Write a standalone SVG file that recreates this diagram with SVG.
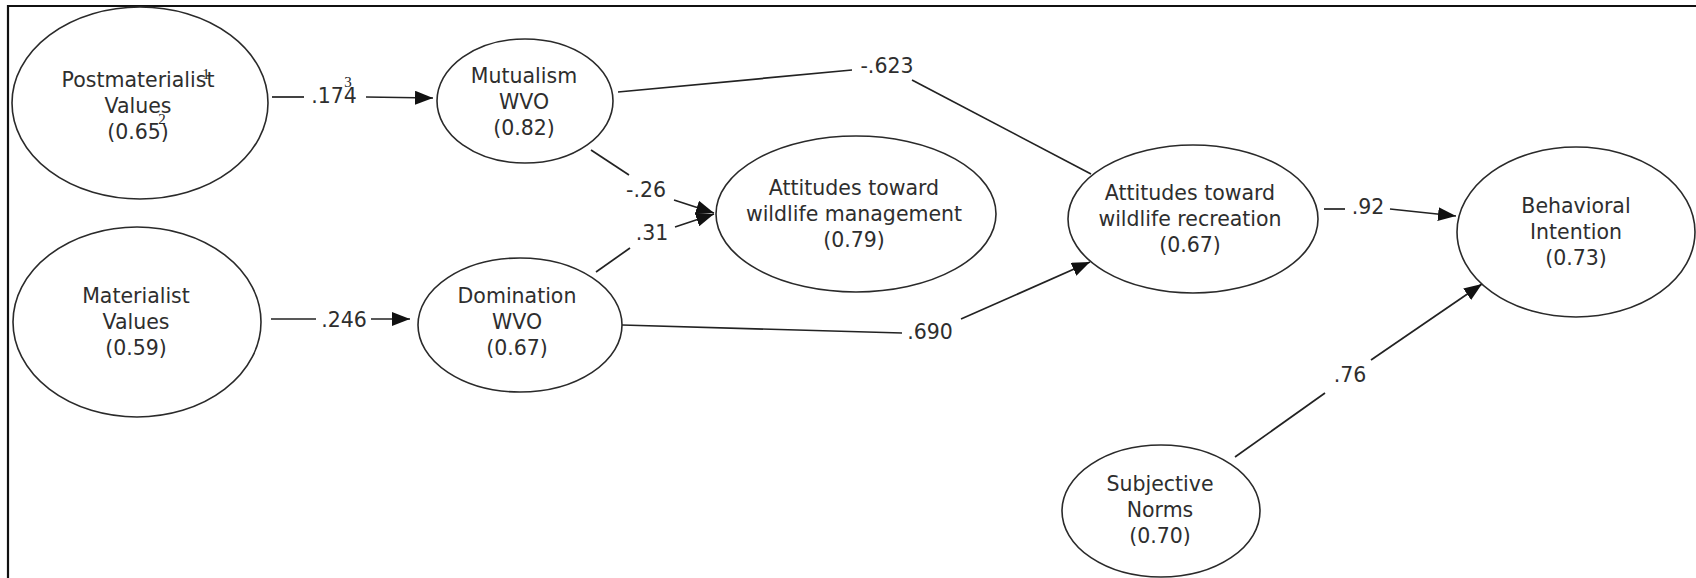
<svg xmlns="http://www.w3.org/2000/svg" width="1696" height="578" viewBox="0 0 1696 578">
<style>
.n{fill:#fff;stroke:#2a2a2a;stroke-width:1.6}
.t{font-family:"DejaVu Sans","Liberation Sans",sans-serif;font-size:20.5px;fill:#2e2e2e;text-anchor:middle}
.c{stroke:#222;stroke-width:1.7;fill:none}
.s{font-family:"Liberation Serif","DejaVu Serif",serif;font-size:15px;fill:#222;text-anchor:middle}
</style>
<defs>
<marker id="arr" markerUnits="userSpaceOnUse" markerWidth="18" markerHeight="14" refX="18" refY="7" orient="auto">
<path d="M0,0 L18,7 L0,14 z" fill="#111"/>
</marker>
</defs>
<rect x="0" y="0" width="1696" height="578" fill="#fff"/>
<g id="frame">
<line x1="7" y1="6" x2="1696" y2="6" stroke="#111" stroke-width="2.2"/>
<line x1="8" y1="5" x2="8" y2="578" stroke="#111" stroke-width="2.2"/>
</g>
<g id="connectors">
<line class="c" x1="272" y1="97" x2="304" y2="97"/>
<text class="t" x="334" y="103">.174</text>
<line class="c" x1="366" y1="97" x2="433" y2="98" marker-end="url(#arr)"/>
<line class="c" x1="271" y1="319" x2="316" y2="319"/>
<text class="t" x="344" y="327">.246</text>
<line class="c" x1="371" y1="319" x2="410" y2="319" marker-end="url(#arr)"/>
<polyline class="c" points="618,92 852,70"/>
<text class="t" x="887" y="73">-.623</text>
<polyline class="c" points="912,80 1091,174"/>
<line class="c" x1="591" y1="150" x2="629" y2="175"/>
<text class="t" x="646" y="197">-.26</text>
<line class="c" x1="674" y1="200" x2="714" y2="213" marker-end="url(#arr)"/>
<line class="c" x1="596" y1="272" x2="630" y2="248"/>
<text class="t" x="652" y="240">.31</text>
<line class="c" x1="675" y1="227" x2="714" y2="214" marker-end="url(#arr)"/>
<line class="c" x1="622" y1="325" x2="902" y2="333"/>
<text class="t" x="930" y="339">.690</text>
<line class="c" x1="961" y1="319" x2="1090" y2="262" marker-end="url(#arr)"/>
<line class="c" x1="1324" y1="209" x2="1345" y2="209"/>
<text class="t" x="1368" y="214">.92</text>
<line class="c" x1="1390" y1="209" x2="1456" y2="216" marker-end="url(#arr)"/>
<line class="c" x1="1235" y1="457" x2="1325" y2="393"/>
<text class="t" x="1350" y="382">.76</text>
<line class="c" x1="1371" y1="360" x2="1482" y2="284" marker-end="url(#arr)"/>
</g>
<g id="postmaterialist">
<ellipse class="n" cx="140" cy="103" rx="128" ry="96"/>
<text class="t" x="138" y="87">Postmaterialist</text>
<text class="t" x="138" y="113">Values</text>
<text class="t" x="138" y="139">(0.65)</text>
<text class="s" x="206" y="79">1</text>
<text class="s" x="162" y="124">2</text>
<text class="s" x="348" y="87">3</text>
</g>
<g id="materialist">
<ellipse class="n" cx="137" cy="322" rx="124" ry="95"/>
<text class="t" x="136" y="303">Materialist</text>
<text class="t" x="136" y="329">Values</text>
<text class="t" x="136" y="355">(0.59)</text>
</g>
<g id="mutualism">
<ellipse class="n" cx="525" cy="101" rx="88" ry="62"/>
<text class="t" x="524" y="83">Mutualism</text>
<text class="t" x="524" y="109">WVO</text>
<text class="t" x="524" y="135">(0.82)</text>
</g>
<g id="domination">
<ellipse class="n" cx="520" cy="325" rx="102" ry="67"/>
<text class="t" x="517" y="303">Domination</text>
<text class="t" x="517" y="329">WVO</text>
<text class="t" x="517" y="355">(0.67)</text>
</g>
<g id="management">
<ellipse class="n" cx="856" cy="214" rx="140" ry="78"/>
<text class="t" x="854" y="195">Attitudes toward</text>
<text class="t" x="854" y="221">wildlife management</text>
<text class="t" x="854" y="247">(0.79)</text>
</g>
<g id="recreation">
<ellipse class="n" cx="1193" cy="219" rx="125" ry="74"/>
<text class="t" x="1190" y="200">Attitudes toward</text>
<text class="t" x="1190" y="226">wildlife recreation</text>
<text class="t" x="1190" y="252">(0.67)</text>
</g>
<g id="behavioral">
<ellipse class="n" cx="1576" cy="232" rx="119" ry="85"/>
<text class="t" x="1576" y="213">Behavioral</text>
<text class="t" x="1576" y="239">Intention</text>
<text class="t" x="1576" y="265">(0.73)</text>
</g>
<g id="subjective">
<ellipse class="n" cx="1161" cy="511" rx="99" ry="66"/>
<text class="t" x="1160" y="491">Subjective</text>
<text class="t" x="1160" y="517">Norms</text>
<text class="t" x="1160" y="543">(0.70)</text>
</g>
</svg>
